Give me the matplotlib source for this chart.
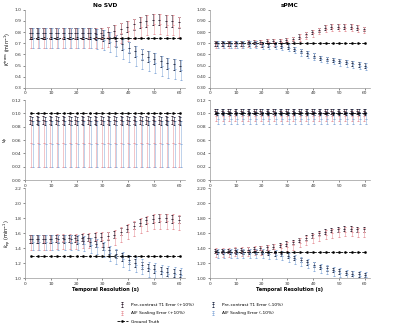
import matplotlib
matplotlib.use("Agg")
import matplotlib.pyplot as plt
import numpy as np

plt.rcParams['font.family'] = ['DejaVu Sans']
plt.rcParams['font.size'] = 3.5

# temporal resolution (s)
t_res = [2.5, 5, 7.5, 10, 12.5, 15, 17.5, 20, 22.5, 25, 27.5, 30,
         32.5, 35, 37.5, 40, 42.5, 45, 47.5, 50, 52.5, 55, 57.5, 60]
x_ticks = [0, 10, 20, 30, 40, 50, 60]

labels = ["Pre-contrast T1 Error (+10%)", "AIF Scaling Error (+10%)",
          "Pre-contrast T1 Error (-10%)", "AIF Scaling Error (-10%)"]
gt_label = "Ground Truth"
col_titles = ["No SVD", "sPMC"]
row_ylabels = ["$K^{trans}$ (min$^{-1}$)", "$v_p$", "$k_{ep}$ (min$^{-1}$)"]
x_label = "Temporal Resolution (s)"

# ---- Ktrans, No SVD
tl_gt = 0.75
tl_r1 = [0.79, 0.79, 0.79, 0.79, 0.79, 0.79, 0.79, 0.79, 0.79, 0.79, 0.79, 0.79, 0.80, 0.81, 0.83, 0.85, 0.87, 0.89, 0.90, 0.91, 0.91, 0.90, 0.90, 0.89]
tl_r2 = [0.75, 0.75, 0.75, 0.75, 0.75, 0.75, 0.75, 0.75, 0.75, 0.75, 0.75, 0.75, 0.76, 0.77, 0.79, 0.81, 0.83, 0.85, 0.86, 0.87, 0.87, 0.86, 0.86, 0.85]
tl_b1 = [0.79, 0.79, 0.79, 0.79, 0.79, 0.79, 0.79, 0.79, 0.79, 0.79, 0.78, 0.77, 0.75, 0.72, 0.69, 0.66, 0.63, 0.60, 0.58, 0.56, 0.54, 0.52, 0.51, 0.50]
tl_b2 = [0.75, 0.75, 0.75, 0.75, 0.75, 0.75, 0.75, 0.75, 0.75, 0.75, 0.74, 0.73, 0.71, 0.68, 0.65, 0.62, 0.59, 0.56, 0.54, 0.52, 0.50, 0.48, 0.47, 0.46]
tl_e1 = [0.05] * 24
tl_e2 = [0.09] * 24

# ---- Ktrans, sPMC
tr_gt = 0.70
tr_r1 = [0.70, 0.70, 0.70, 0.70, 0.70, 0.71, 0.71, 0.71, 0.72, 0.72, 0.72, 0.73, 0.74, 0.76, 0.78, 0.80, 0.82, 0.84, 0.85, 0.85, 0.85, 0.85, 0.84, 0.83]
tr_r2 = [0.69, 0.69, 0.69, 0.69, 0.69, 0.70, 0.70, 0.70, 0.71, 0.71, 0.71, 0.72, 0.73, 0.75, 0.77, 0.79, 0.81, 0.83, 0.84, 0.84, 0.84, 0.84, 0.83, 0.82]
tr_b1 = [0.70, 0.70, 0.70, 0.70, 0.70, 0.70, 0.70, 0.69, 0.69, 0.69, 0.68, 0.67, 0.65, 0.63, 0.61, 0.59, 0.57, 0.56, 0.55, 0.54, 0.53, 0.52, 0.51, 0.50]
tr_b2 = [0.69, 0.69, 0.69, 0.69, 0.69, 0.69, 0.69, 0.68, 0.68, 0.68, 0.67, 0.66, 0.64, 0.62, 0.60, 0.58, 0.56, 0.55, 0.54, 0.53, 0.52, 0.51, 0.50, 0.49]
tr_e1 = [0.02] * 24
tr_e2 = [0.03] * 24

# ---- vp, No SVD
ml_gt = 0.10
ml_r1 = [0.090] * 24
ml_r2 = [0.055] * 24
ml_b1 = [0.089] * 24
ml_b2 = [0.054] * 24
ml_e1 = [0.006] * 24
ml_e2 = [0.035] * 24

# ---- vp, sPMC
mr_gt = 0.10
mr_r1 = [0.103] * 24
mr_r2 = [0.096] * 24
mr_b1 = [0.102] * 24
mr_b2 = [0.092] * 24
mr_e1 = [0.004] * 24
mr_e2 = [0.008] * 24

# ---- kep, No SVD
bl_gt = 1.30
bl_r1 = [1.52, 1.52, 1.52, 1.52, 1.53, 1.53, 1.53, 1.53, 1.54, 1.54, 1.55, 1.55, 1.56, 1.58, 1.62, 1.66, 1.70, 1.74, 1.77, 1.79, 1.80, 1.80, 1.79, 1.78]
bl_r2 = [1.48, 1.48, 1.48, 1.48, 1.49, 1.49, 1.49, 1.49, 1.50, 1.50, 1.51, 1.51, 1.52, 1.54, 1.58, 1.62, 1.66, 1.70, 1.73, 1.75, 1.76, 1.76, 1.75, 1.74]
bl_b1 = [1.52, 1.52, 1.52, 1.52, 1.52, 1.52, 1.52, 1.51, 1.50, 1.48, 1.46, 1.42, 1.37, 1.32, 1.28, 1.24, 1.20, 1.17, 1.14, 1.12, 1.10, 1.08, 1.07, 1.06]
bl_b2 = [1.48, 1.48, 1.48, 1.48, 1.48, 1.48, 1.48, 1.47, 1.46, 1.44, 1.42, 1.38, 1.33, 1.29, 1.25, 1.21, 1.18, 1.15, 1.12, 1.10, 1.08, 1.06, 1.05, 1.04]
bl_e1 = [0.05] * 24
bl_e2 = [0.10] * 24

# ---- kep, sPMC
br_gt = 1.35
br_r1 = [1.36, 1.36, 1.36, 1.37, 1.37, 1.38, 1.39, 1.40, 1.41, 1.42, 1.44, 1.46, 1.48, 1.51, 1.54, 1.57, 1.60, 1.62, 1.64, 1.65, 1.66, 1.66, 1.65, 1.65]
br_r2 = [1.34, 1.34, 1.34, 1.35, 1.35, 1.36, 1.37, 1.37, 1.38, 1.39, 1.40, 1.42, 1.44, 1.47, 1.50, 1.53, 1.56, 1.58, 1.60, 1.61, 1.62, 1.62, 1.61, 1.61]
br_b1 = [1.35, 1.35, 1.35, 1.35, 1.35, 1.35, 1.35, 1.35, 1.34, 1.33, 1.32, 1.30, 1.27, 1.24, 1.21, 1.18, 1.15, 1.13, 1.11, 1.09, 1.07, 1.06, 1.05, 1.04]
br_b2 = [1.33, 1.33, 1.33, 1.33, 1.33, 1.33, 1.33, 1.33, 1.32, 1.31, 1.30, 1.28, 1.25, 1.22, 1.19, 1.16, 1.13, 1.11, 1.09, 1.07, 1.05, 1.04, 1.03, 1.02]
br_e1 = [0.03] * 24
br_e2 = [0.06] * 24

panels = [
    (tl_gt, tl_r1, tl_r2, tl_b1, tl_b2, tl_e1, tl_e2, (0.3, 1.0), np.arange(0.3, 1.01, 0.1), "%.1f"),
    (tr_gt, tr_r1, tr_r2, tr_b1, tr_b2, tr_e1, tr_e2, (0.3, 1.0), np.arange(0.3, 1.01, 0.1), "%.2f"),
    (ml_gt, ml_r1, ml_r2, ml_b1, ml_b2, ml_e1, ml_e2, (0.0, 0.12), np.arange(0, 0.121, 0.02), "%.2f"),
    (mr_gt, mr_r1, mr_r2, mr_b1, mr_b2, mr_e1, mr_e2, (0.0, 0.12), np.arange(0, 0.121, 0.02), "%.2f"),
    (bl_gt, bl_r1, bl_r2, bl_b1, bl_b2, bl_e1, bl_e2, (1.0, 2.2), np.arange(1.0, 2.21, 0.2), "%.1f"),
    (br_gt, br_r1, br_r2, br_b1, br_b2, br_e1, br_e2, (1.0, 2.2), np.arange(1.0, 2.21, 0.2), "%.2f"),
]

colors = ["#3b2a3a", "#e89aa0", "#2b3550", "#8fb0dc"]
offsets = [-0.45, -0.15, 0.15, 0.45]

fig = plt.figure(figsize=(4.0, 3.28), dpi=100)
lefts = [0.0625, 0.525]
width = 0.40
rows = [(0.732, 0.238), (0.451, 0.244), (0.152, 0.274)]

x = np.array(t_res)
handles = []
for i, p in enumerate(panels):
    r, c = divmod(i, 2)
    gt, r1, r2, b1, b2, e1, e2, ylim, yt, fmt = p
    ax = fig.add_axes([lefts[c], rows[r][0], width, rows[r][1]])
    series = [(r1, e1, colors[0]), (r2, e2, colors[1]), (b1, e1, colors[2]), (b2, e2, colors[3])]
    hs = []
    for k, (vals, err, col) in enumerate(series):
        h = ax.errorbar(x + offsets[k], vals, yerr=err, fmt='_', color=col, ecolor=col,
                        elinewidth=0.4, capsize=0.8, capthick=0.4, markersize=2, mew=0.7)
        hs.append(h)
    g, = ax.plot(x, [gt] * len(x), color='black', linestyle='--', linewidth=0.6,
                 marker='s', markersize=0.8)
    ax.set_xlim(0, 62)
    ax.set_xticks(x_ticks)
    ax.set_ylim(*ylim)
    ax.set_yticks(yt)
    ax.set_yticklabels([fmt % v for v in yt])
    ax.tick_params(length=1.5, width=0.4, pad=1, labelsize=3.2, colors='#333333')
    for s in ['top', 'right']:
        ax.spines[s].set_visible(False)
    for s in ['left', 'bottom']:
        ax.spines[s].set_color('#999999')
        ax.spines[s].set_linewidth(0.5)
    if r == 0:
        ax.set_title(col_titles[c], fontsize=4.2, fontweight='bold', pad=2)
    if c == 0:
        ax.set_ylabel(row_ylabels[r], fontsize=3.5, labelpad=1)
    if r == 2:
        ax.set_xlabel(x_label, fontsize=3.6, fontweight='bold', labelpad=1)
    if i == 0:
        handles = hs + [g]

leg = fig.legend([handles[0], handles[1], handles[4], handles[2], handles[3]],
                 [labels[0], labels[1], gt_label, labels[2], labels[3]],
                 loc='lower center', bbox_to_anchor=(0.5, 0.0), ncol=2,
                 fontsize=3.2, frameon=False, handlelength=2.5, columnspacing=3,
                 labelspacing=1.0)

fig.savefig("out.png", dpi=100)
